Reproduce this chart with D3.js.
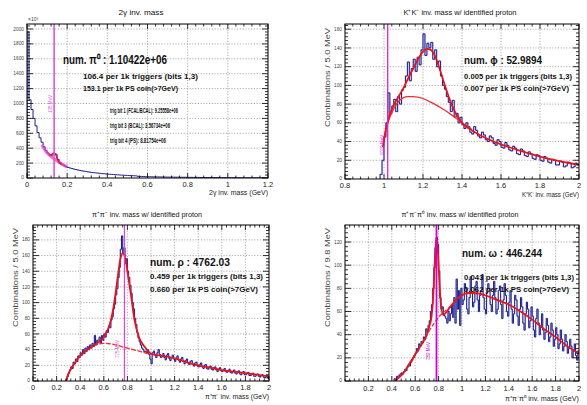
<!DOCTYPE html>
<html><head><meta charset="utf-8">
<script src="https://cdn.jsdelivr.net/npm/d3@7"></script>
<style>
body{margin:0;background:#fff}
svg{display:block;font-family:"Liberation Sans",Arial,Helvetica,sans-serif}
</style>
</head><body>
<svg id="c" width="587" height="405"></svg>
<script>
// ---------- 2γ invariant mass (counts in units of 10^3, 10 MeV bins from 0) ----------
const pi0Start = 0, pi0Width = 0.01;
const pi0Counts = [1960,1050,920,800,700,610,540,480,420,370,
  335,310,305,330,320,250,205,180,165,152,
  142,134,126,119,113,107,101,96,91,86,
  82,78,74,71,68,65,62,59,57,54,
  52,50,48,46,44,42,40,38,37,35,
  34,32,31,30,28,22,21,20,19,18,
  17,17,16,16,15,15,14,14,13,13,
  12,12,12,11,11,11,10,10,10,9,
  9,9,8,8,8,8,7,7,7,7,
  6,6,6,6,5,5,5,5,5,4,
  4,4,4,4,4,3,3,3,3,3,
  3,3,3,2,2,2,2,2,2,2];
const pi0BkgX = [0.075,0.09,0.10,0.11,0.12,0.13,0.14,0.15,0.16,0.17,0.18,0.19,0.20];
const pi0BkgY = [445,372,338,310,287,267,248,230,212,195,178,163,150];
const pi0FitX = [0.11,0.12,0.125,0.13,0.135,0.14,0.145,0.15,0.155,0.16,0.17];
const pi0FitY = [310,312,322,335,338,325,300,265,235,210,185];
const pi0XTicks = [0,0.2,0.4,0.6,0.8,1,1.2];
const pi0YTicks = [0,200,400,600,800,1000,1200,1400,1600,1800,2000];

// ---------- K+K- invariant mass (10 MeV bins from 0.98 GeV) ----------
const kkStart = 0.98, kkWidth = 0.01;
const kkCounts = [5,20,45,60,92,70,78,85,72,88,
  80,95,98,110,125,105,118,128,115,130,
  122,138,155,132,145,140,146,128,138,120,
  126,110,100,96,88,82,72,84,66,70,
  60,66,58,54,60,56,50,48,56,52,
  46,44,50,47,42,40,46,44,38,36,
  42,40,34,33,39,36,31,30,35,33,
  27,26,32,30,25,24,29,27,22,21,
  26,25,20,19,24,22,18,17,21,20,
  15,15,19,18,13,14,18,17,12,13,
  17,15];
const kkFitX = [0.995,1.0,1.02,1.05,1.08,1.1,1.12,1.15,1.18,1.2,1.22,1.24,1.26,1.28,1.3,1.32,1.35,1.38,1.4,1.45,1.5,1.6,1.7,1.8,1.9,2.0];
const kkFitY = [34,42,62,79,90,97,106,118,130,136,139,138,132,121,108,95,78,66,60,52,46,37,30,24,19,15];
const kkBkgX = [0.995,1.0,1.02,1.05,1.08,1.1,1.12,1.15,1.2,1.25,1.3,1.35,1.4,1.45];
const kkBkgY = [34,42,60,75,84,87,88,88,86,81,75,68,60,53];
const kkXTicks = [0.8,1,1.2,1.4,1.6,1.8,2];
const kkYTicks = [0,20,40,60,80,100,120,140,160];

// ---------- π+π- invariant mass (10 MeV bins from 0.28 GeV) ----------
const ppStart = 0.28, ppWidth = 0.01;
const ppCounts = [2,6,10,14,18,16,24,22,28,25,
  32,30,36,33,40,35,42,38,44,40,
  46,42,48,44,58,46,52,50,56,48,
  58,52,60,56,64,62,70,68,78,82,
  92,98,110,118,132,145,168,185,162,170,
  150,156,140,132,122,112,100,92,80,72,
  62,55,50,46,42,40,37,38,36,40,
  34,28,22,
  36,38,33,30,36,40,34,30,31,35,
  30,27,33,35,29,26,30,33,28,25,
  29,32,27,24,28,30,25,22,26,28,
  23,21,25,26,21,19,23,24,19,18,
  21,23,18,16,20,21,16,15,18,19,
  15,14,17,18,14,12,15,17,13,12,
  14,16,12,11,13,15,11,10,12,14,
  10,9,12,13,9,8,11,12,8,8,
  10,11,7,7,9,10,6,6,8,9,
  6,5,7,8,5,4,6,7,4];
const ppFitX = [0.28,0.3,0.35,0.4,0.45,0.5,0.55,0.6,0.65,0.68,0.7,0.72,0.74,0.76,0.78,0.8,0.83,0.86,0.9,0.95,1.0,1.1,1.2,1.3,1.4,1.5,1.6,1.7,1.8,1.9,2.0];
const ppFitY = [0,9,22,32,39,44,49,56,72,92,112,135,155,163,158,140,110,78,55,43,35,32,29,24,20,17,14,12,10,8,6];
const ppBkgX = [0.28,0.3,0.35,0.4,0.45,0.5,0.55,0.6,0.65,0.7,0.75,0.8,0.85,0.9,0.95,1.0];
const ppBkgY = [0,9,22,32,39,44,47,48,47.5,46,44,42,40,38,36,34];
const ppXTicks = [0,0.2,0.4,0.6,0.8,1,1.2,1.4,1.6,1.8,2];
const ppYTicks = [0,20,40,60,80,100,120,140,160,180];

// ---------- π+π-π0 invariant mass (10 MeV bins from 0.42 GeV) ----------
const pppStart = 0.42, pppWidth = 0.01;
const pppCounts = [2,0,4,3,5,6,7,6,8,10,
  9,12,14,13,16,18,20,22,24,28,
  26,32,30,34,33,38,36,45,42,48,
  52,60,66,80,98,115,124,118,95,72,
  62,64,58,56,54,50,60,52,58,66,
  55,72,50,88,62,78,48,80,
  66,70,84,80,62,58,72,90,76,64,
  68,82,86,70,60,74,78,92,72,62,
  58,76,84,80,66,60,74,86,72,58,
  62,78,82,66,54,70,84,74,60,56,
  68,78,62,50,58,74,70,56,48,62,
  72,64,50,44,58,68,62,46,52,64,
  56,44,38,54,62,50,40,48,58,44,
  36,42,54,48,34,38,50,44,30,36,
  46,40,28,32,44,36,26,30,40,34,
  24,28,36,30,20,26,32,22,18,26];
const pppFitX = [0.43,0.45,0.5,0.55,0.6,0.65,0.7,0.72,0.74,0.755,0.77,0.78,0.785,0.79,0.8,0.81,0.82,0.84,0.87,0.9,0.95,1.0,1.05,1.1,1.2,1.3,1.4,1.5,1.6,1.7,1.8,1.9,2.0];
const pppFitY = [0,2,7,15,23,31,40,47,56,75,108,122,123,118,100,80,66,57,60,64,70,74,76,76,74,70,66,60,53,45,38,30,24];
const pppBkgX = [0.43,0.5,0.6,0.7,0.75,0.8,0.85,0.9];
const pppBkgY = [0,7,22,40,48,55,60,64];
const pppXTicks = [0.2,0.4,0.6,0.8,1,1.2,1.4,1.6,1.8,2];
const pppYTicks = [0,20,40,60,80,100,120];

const svg = d3.select("#c");
const fmt = d3.format("~g");
let clipId = 0;

function txt(g, x, y, s, o = {}) {
  const t = g.append("text").attr("x", x).attr("y", y).text(s)
    .attr("font-size", o.size || 7)
    .attr("fill", o.color || "#111")
    .attr("text-anchor", o.anchor || "start")
    .attr("font-weight", o.weight || "normal");
  if (o.len) t.attr("textLength", o.len).attr("lengthAdjust", "spacingAndGlyphs");
  if (o.rot) t.attr("transform", `rotate(${o.rot},${x},${y})`);
  return t;
}

function minorTicks(ticks, domain) {
  const step = (ticks[1] - ticks[0]) / 5;
  const first = ticks[0] - Math.floor((ticks[0] - domain[0]) / step + 1e-9) * step;
  return d3.range(first, domain[1] + step * 0.01, step);
}

function histPath(x, y, start, width, counts) {
  const pts = [[start, 0]];
  counts.forEach((c, i) => pts.push([start + i * width, c]));
  pts.push([start + counts.length * width, counts[counts.length - 1]]);
  return d3.line().x(d => x(d[0])).y(d => y(d[1])).curve(d3.curveStepAfter)(pts);
}

function curvePath(x, y, xs, ys) {
  return d3.line().x(d => x(d[0])).y(d => y(d[1])).curve(d3.curveMonotoneX)(xs.map((v, i) => [v, ys[i]]));
}

function drawPanel(p) {
  const g = svg.append("g");
  const x = d3.scaleLinear().domain(p.xDomain).range([p.left, p.right]);
  const y = d3.scaleLinear().domain(p.yDomain).range([p.bottom, p.top]);
  const id = "clip" + (clipId++);
  svg.append("clipPath").attr("id", id).append("rect")
    .attr("x", p.left).attr("y", p.top).attr("width", p.right - p.left).attr("height", p.bottom - p.top);

  // dotted grid at the major ticks
  const grid = g.append("g").attr("stroke", "#8a8a8a").attr("stroke-width", 0.7).attr("stroke-dasharray", "1.2,1.6");
  p.xTicks.forEach(v => { if (v > p.xDomain[0] && v < p.xDomain[1]) grid.append("line").attr("x1", x(v)).attr("x2", x(v)).attr("y1", p.top).attr("y2", p.bottom); });
  p.yTicks.forEach(v => { if (v > p.yDomain[0] && v < p.yDomain[1]) grid.append("line").attr("x1", p.left).attr("x2", p.right).attr("y1", y(v)).attr("y2", y(v)); });

  const plot = g.append("g").attr("clip-path", `url(#${id})`);
  const hp = histPath(x, y, p.start, p.width, p.counts);
  if (p.halo) plot.append("path").attr("d", hp).attr("fill", "none").attr("stroke", "#8f9be0").attr("stroke-width", p.halo).attr("opacity", 0.5);
  plot.append("path").attr("d", hp).attr("fill", "none").attr("stroke", "#1e1e8c").attr("stroke-width", p.lineW);

  if (p.bkgX) plot.append("path").attr("d", curvePath(x, y, p.bkgX, p.bkgY)).attr("fill", "none")
    .attr("stroke", p.bkgColor).attr("stroke-width", p.bkgW).attr("stroke-dasharray", p.bkgDash || null).attr("opacity", p.bkgOpacity || 1);
  plot.append("path").attr("d", curvePath(x, y, p.fitX, p.fitY)).attr("fill", "none")
    .attr("stroke", "#e8141c").attr("stroke-width", p.fitW);

  // nominal mass marker
  plot.append("line").attr("x1", x(p.mass)).attr("x2", x(p.mass)).attr("y1", p.top).attr("y2", p.bottom)
    .attr("stroke", p.massColor).attr("stroke-width", p.massW);
  txt(g, p.massLabelPos[0], p.massLabelPos[1], p.massLabel, { size: 4.5, color: p.massColor, anchor: "middle", rot: -90 });

  // frame and ticks (inside, on all four sides)
  const ax = g.append("g").attr("stroke", "#000").attr("stroke-width", 0.8);
  const xMinor = minorTicks(p.xTicks, p.xDomain), yMinor = minorTicks(p.yTicks, p.yDomain);
  xMinor.forEach(v => {
    const major = p.xTicks.some(t => Math.abs(t - v) < 1e-6);
    const L = major ? 5 : 2.5;
    ax.append("line").attr("x1", x(v)).attr("x2", x(v)).attr("y1", p.bottom).attr("y2", p.bottom - L);
    ax.append("line").attr("x1", x(v)).attr("x2", x(v)).attr("y1", p.top).attr("y2", p.top + L);
  });
  yMinor.forEach(v => {
    const major = p.yTicks.some(t => Math.abs(t - v) < 1e-6);
    const L = major ? 6 : 3;
    ax.append("line").attr("x1", p.left).attr("x2", p.left + L).attr("y1", y(v)).attr("y2", y(v));
    ax.append("line").attr("x1", p.right).attr("x2", p.right - L).attr("y1", y(v)).attr("y2", y(v));
  });
  g.append("rect").attr("x", p.left).attr("y", p.top).attr("width", p.right - p.left).attr("height", p.bottom - p.top)
    .attr("fill", "none").attr("stroke", "#000").attr("stroke-width", 1);

  p.xTicks.forEach(v => txt(g, x(v), p.bottom + p.xLabelDy, fmt(v), { size: 7.5, color: "#222", anchor: "middle" }));
  p.yTicks.forEach(v => txt(g, p.left - 3, y(v) + (v === 0 ? 0.5 : 1.6), fmt(v), { size: 4.8, color: "#444", anchor: "end" }));

  txt(g, p.titlePos[0], p.titlePos[1], p.title, { size: 7.5, anchor: "middle", len: p.titleLen, color: "#111" });
  txt(g, p.right, p.xTitleY, p.xTitle, { size: 6.8, anchor: "end", len: p.xTitleLen, color: "#222" });
  if (p.yTitle) txt(g, p.yTitlePos[0], p.yTitlePos[1], p.yTitle, { size: 7.5, anchor: "end", rot: -90, len: 99, color: "#444" });

  p.notes.forEach(n => txt(g, n[0], n[1], n[2], { size: n[3], weight: "bold", len: n[4], color: "#111" }));
}

drawPanel({
  left: 27, right: 268, top: 24, bottom: 178, xDomain: [0, 1.2], yDomain: [0, 2067],
  start: pi0Start, width: pi0Width, counts: pi0Counts, halo: 0, lineW: 1,
  bkgX: pi0BkgX, bkgY: pi0BkgY, bkgColor: "#ee33cc", bkgW: 3, bkgOpacity: 0.75,
  fitX: pi0FitX, fitY: pi0FitY, fitW: 1.3,
  mass: 0.135, massColor: "#d65ad6", massW: 1.6, massLabel: "135 MeV", massLabelPos: [52, 104],
  xTicks: pi0XTicks, yTicks: pi0YTicks, xLabelDy: 9,
  title: "2γ inv. mass", titlePos: [141, 15], titleLen: 45,
  xTitle: "2γ inv. mass (GeV)", xTitleY: 195, xTitleLen: 59,
  notes: [[63, 64, "num. π⁰ : 1.10422e+06", 12, 104],
          [83, 79, "106.4 per 1k triggers (bits 1,3)", 7.5, 115],
          [83, 91, "153.1 per 1k PS coin(>7GeV)", 7.5, 95],
          [110, 112.5, "trig bit 1 (FCAL/BCAL): 9.25558e+06", 6.5, 68],
          [110, 128, "trig bit 3 (BCAL): 3.56734e+06", 6.5, 60],
          [110, 143, "trig bit 4 (PS): 8.81754e+06", 6.5, 56]]
});
txt(svg, 28, 21, "×10³", { size: 5, color: "#444" });

drawPanel({
  left: 345, right: 579, top: 24, bottom: 179, xDomain: [0.8, 2], yDomain: [0, 165.6],
  start: kkStart, width: kkWidth, counts: kkCounts, halo: 1.4, lineW: 1,
  bkgX: kkBkgX, bkgY: kkBkgY, bkgColor: "#f03030", bkgW: 1.3,
  fitX: kkFitX, fitY: kkFitY, fitW: 1.8,
  mass: 1.019, massColor: "#e020e0", massW: 1.3, massLabel: "1019 MeV", massLabelPos: [384, 145],
  xTicks: kkXTicks, yTicks: kkYTicks, xLabelDy: 8.5,
  title: "K⁺K⁻ inv. mass w/ identified proton", titlePos: [460, 15], titleLen: 113,
  xTitle: "K⁺K⁻ inv. mass (GeV)", xTitleY: 197, xTitleLen: 57,
  yTitle: "Combinations /   5.0 MeV", yTitlePos: [330, 28],
  notes: [[464, 64, "num. ϕ : 52.9894", 11.5, 78],
          [464, 79, "0.005 per 1k triggers (bits 1,3)", 7.2, 108],
          [464, 90.5, "0.007 per 1k PS coin(>7GeV)", 7.2, 105]]
});

drawPanel({
  left: 33, right: 269, top: 225, bottom: 381, xDomain: [0, 2], yDomain: [0, 199],
  start: ppStart, width: ppWidth, counts: ppCounts, halo: 1.4, lineW: 1,
  bkgX: ppBkgX, bkgY: ppBkgY, bkgColor: "#f03030", bkgW: 1.3, bkgDash: "5,1.5",
  fitX: ppFitX, fitY: ppFitY, fitW: 1.8,
  mass: 0.775, massColor: "#e040e0", massW: 1.2, massLabel: "775 MeV", massLabelPos: [119, 349],
  xTicks: ppXTicks, yTicks: ppYTicks, xLabelDy: 8.5,
  title: "π⁺π⁻ inv. mass w/ identified proton", titlePos: [147, 217], titleLen: 110,
  xTitle: "π⁺π⁻ inv. mass (GeV)", xTitleY: 399, xTitleLen: 64,
  yTitle: "Combinations /   5.0 MeV", yTitlePos: [18, 228],
  notes: [[150, 266, "num. ρ : 4762.03", 11.5, 80],
          [150, 279, "0.459 per 1k triggers (bits 1,3)", 7.2, 113],
          [150, 292, "0.660 per 1k PS coin(>7GeV)", 7.2, 108]]
});

drawPanel({
  left: 345, right: 579, top: 225, bottom: 381, xDomain: [0, 2], yDomain: [0, 134.7],
  start: pppStart, width: pppWidth, counts: pppCounts, halo: 1.4, lineW: 1,
  bkgX: pppBkgX, bkgY: pppBkgY, bkgColor: "#f03030", bkgW: 1.3, bkgDash: "4,2",
  fitX: pppFitX, fitY: pppFitY, fitW: 1.8,
  mass: 0.782, massColor: "#d000d0", massW: 1.8, massLabel: "782 MeV", massLabelPos: [430, 351],
  xTicks: pppXTicks, yTicks: pppYTicks, xLabelDy: 9.5,
  title: "π⁺π⁻π⁰ inv. mass w/ identified proton", titlePos: [460, 217], titleLen: 117,
  xTitle: "π⁺π⁻π⁰ inv. mass (GeV)", xTitleY: 401, xTitleLen: 74,
  yTitle: "Combinations /   9.8 MeV", yTitlePos: [330, 228],
  notes: [[462, 257, "num. ω : 446.244", 11.5, 80],
          [464, 280, "0.043 per 1k triggers (bits 1,3)", 7.2, 110],
          [464, 292, "0.062 per 1k PS coin(>7GeV)", 7.2, 105]]
});
</script>
</body></html>
